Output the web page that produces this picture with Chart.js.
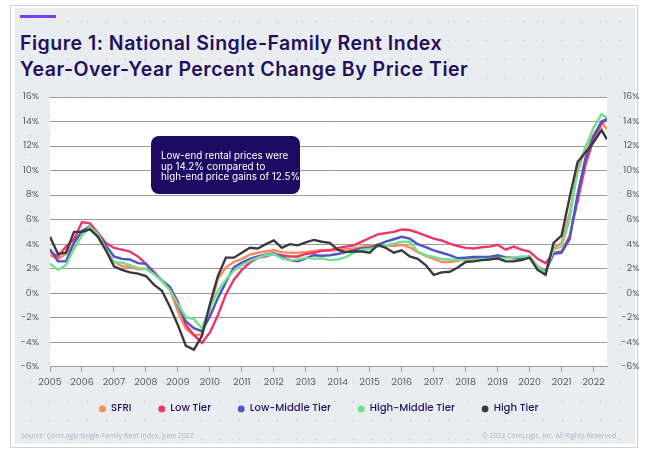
<!DOCTYPE html>
<html>
<head>
<meta charset="utf-8">
<script src="https://cdn.jsdelivr.net/npm/chart.js@4.4.0/dist/chart.umd.min.js"></script>
<style>
  body { margin: 0; background: #fff; width: 650px; height: 458px; overflow: hidden; position: relative; font-family: 'Poppins', 'Inter', sans-serif; }
  .frame { position: absolute; left: 10px; top: 5px; width: 628px; height: 443px; border: 1px solid #d2d2d2; box-sizing: border-box; }
  .panel { position: absolute; left: 15px; top: 8px; width: 620px; height: 436px; background-color: #e9edf0;
           background-image: radial-gradient(circle, #d4d9dd 0.9px, transparent 1.2px); background-size: 19px 19px; background-position: 6px 4px; }
  .accent { position: absolute; left: 20px; top: 15px; width: 36px; height: 3px; background: #7a3ff0; }
  .title { position: absolute; left: 20px; top: 30px; color: #22105c; font: 600 19.5px 'Inter', sans-serif; line-height: 26px; letter-spacing: 0.5px; white-space: nowrap; }
  canvas { position: absolute; left: 0; top: 0; }
  .note { position: absolute; left: 151px; top: 136px; width: 149px; height: 58px; box-sizing: border-box; padding: 15px 0 0 10px;
          background: #1d0b63; border-radius: 8px; color: #fff; font: 9.8px 'Inter', sans-serif; line-height: 10.5px; white-space: nowrap; }
  .src { position: absolute; top: 431px; color: #aeb3b8; font: 6.9px 'Open Sans', sans-serif; white-space: nowrap; }
</style>
</head>
<body>
<div class="frame"></div>
<div class="panel"></div>
<div class="accent"></div>
<div class="title">Figure 1: National Single-Family Rent Index<br>Year-Over-Year Percent Change By Price Tier</div>
<canvas id="rentChart" width="650" height="458"></canvas>
<div class="note">Low-end rental prices were<br>up 14.2% compared to<br>high-end price gains of 12.5%</div>
<div class="src" style="left:21px">Source: CoreLogic Single-Family Rent Index, June 2022</div>
<div class="src" style="right:32px">© 2022 CoreLogic, Inc. All Rights Reserved.</div>
<script>
// quarterly readings, last point is June 2022
const months = [
	'2005-01', '2005-04', '2005-07', '2005-10',
	'2006-01', '2006-04', '2006-07', '2006-10',
	'2007-01', '2007-04', '2007-07', '2007-10',
	'2008-01', '2008-04', '2008-07', '2008-10',
	'2009-01', '2009-04', '2009-07', '2009-10',
	'2010-01', '2010-04', '2010-07', '2010-10',
	'2011-01', '2011-04', '2011-07', '2011-10',
	'2012-01', '2012-04', '2012-07', '2012-10',
	'2013-01', '2013-04', '2013-07', '2013-10',
	'2014-01', '2014-04', '2014-07', '2014-10',
	'2015-01', '2015-04', '2015-07', '2015-10',
	'2016-01', '2016-04', '2016-07', '2016-10',
	'2017-01', '2017-04', '2017-07', '2017-10',
	'2018-01', '2018-04', '2018-07', '2018-10',
	'2019-01', '2019-04', '2019-07', '2019-10',
	'2020-01', '2020-04', '2020-07', '2020-10',
	'2021-01', '2021-04', '2021-07', '2021-10',
	'2022-01', '2022-04', '2022-06'
];

const sfri = [
	3.1, 2.8, 3.2, 4.1,   5.0, 5.5, 4.6, 3.5,   2.6, 2.2, 2.15, 1.95,   2.0, 1.6, 1.0, 0.3,
	-1.5, -2.9, -3.45, -3.35,   -1.3, 1.2, 2.1, 2.55,   2.8, 3.15, 3.3, 3.4,   3.5, 3.35, 3.3, 3.3,
	3.35, 3.45, 3.5, 3.5,   3.5, 3.6, 3.65, 3.8,   3.85, 3.95, 3.9, 3.85,   3.95, 3.75, 3.35, 3.05,
	2.8, 2.55, 2.55, 2.65,   2.8, 2.8, 2.85, 2.95,   3.0, 2.95, 2.9, 2.85,   2.95, 2.2, 1.8, 3.7,
	4.1, 6.5, 9.9, 11.9,   12.9, 13.9, 13.4
];
const lowTier = [
	3.4, 3.0, 3.8, 4.4,   5.8, 5.7, 4.9, 4.1,   3.7, 3.55, 3.4, 3.0,   2.4, 1.75, 1.0, 0.5,
	-0.7, -2.6, -3.4, -4.05,   -3.2, -1.8, -0.1, 1.1,   1.9, 2.5, 2.9, 3.0,   3.2, 3.1, 3.0, 3.0,
	3.2, 3.3, 3.45, 3.5,   3.7, 3.8, 3.9, 4.2,   4.5, 4.8, 4.9, 5.0,   5.2, 5.15, 4.95, 4.7,
	4.45, 4.3, 4.05, 3.85,   3.7, 3.65, 3.75, 3.8,   3.95, 3.55, 3.8, 3.55,   3.4, 2.8, 2.45, 3.3,
	3.4, 4.65, 7.5, 10.5,   12.55, 13.8, 14.2
];
const lowMiddleTier = [
	3.6, 2.6, 2.6, 4.1,   5.1, 5.4, 4.7, 3.9,   3.0, 2.8, 2.75, 2.45,   2.4, 1.6, 1.05, 0.5,
	-1.0, -2.3, -2.85, -3.1,   -1.9, -0.4, 0.9, 2.1,   2.5, 2.8, 3.0, 3.15,   3.25, 2.95, 2.7, 2.6,
	2.85, 3.1, 3.05, 3.1,   3.2, 3.35, 3.5, 3.65,   3.7, 3.95, 4.2, 4.4,   4.6, 4.45, 4.0, 3.75,
	3.5, 3.3, 3.1, 2.85,   2.9, 2.95, 2.95, 2.95,   3.1, 2.9, 2.85, 2.8,   3.0, 2.05, 1.8, 3.2,
	3.3, 4.4, 8.05, 11.05,   12.8, 14.0, 14.2
];
const highMiddleTier = [
	2.4, 1.9, 2.3, 3.6,   4.7, 5.4, 4.8, 3.6,   2.5, 2.5, 2.3, 2.05,   2.0, 1.55, 1.0, 0.25,
	-0.9, -1.95, -2.1, -2.85,   -1.2, 0.2, 1.1, 1.85,   2.3, 2.65, 2.9, 3.1,   3.2, 2.85, 2.7, 2.75,
	2.9, 2.8, 2.85, 2.7,   2.75, 2.95, 3.3, 3.55,   3.6, 3.8, 3.9, 4.05,   4.2, 4.2, 3.4, 3.1,
	2.95, 2.8, 2.75, 2.7,   2.7, 2.7, 2.8, 2.8,   2.85, 2.85, 2.9, 3.0,   3.0, 2.1, 1.7, 3.55,
	3.8, 6.0, 10.25, 11.9,   13.5, 14.6, 14.3
];
const highTier = [
	4.6, 3.2, 3.3, 5.0,   5.0, 5.2, 4.6, 3.5,   2.2, 1.9, 1.7, 1.6,   1.4, 0.7, 0.2, -1.1,
	-2.6, -4.3, -4.6, -3.5,   -0.9, 1.4, 2.9, 2.9,   3.3, 3.7, 3.65, 4.0,   4.3, 3.7, 4.0, 3.9,
	4.15, 4.35, 4.2, 4.1,   3.55, 3.35, 3.4, 3.4,   3.3, 3.95, 3.7, 3.3,   3.5, 3.0, 2.8, 2.3,
	1.5, 1.7, 1.75, 2.1,   2.55, 2.6, 2.7, 2.75,   2.85, 2.6, 2.6, 2.7,   2.9, 1.9, 1.5, 4.1,
	4.7, 7.8, 10.7, 11.5,   12.3, 13.3, 12.55
];

const yearTicks = [2005, 2006, 2007, 2008, 2009, 2010, 2011, 2012, 2013, 2014, 2015, 2016, 2017, 2018, 2019, 2020, 2021, 2022];
const percentTicks = [-6, -4, -2, 0, 2, 4, 6, 8, 10, 12, 14, 16];

const seriesNames = ['SFRI', 'Low Tier', 'Low-Middle Tier', 'High-Middle Tier', 'High Tier'];
const seriesColors = ['#fa8a5a', '#f0336d', '#4a55c6', '#70e090', '#3a3a3c'];
const seriesValues = [sfri, lowTier, lowMiddleTier, highMiddleTier, highTier];

const toYear = (m) => +m.slice(0, 4) + (+m.slice(5) - 1) / 12;

const plotBg = {
	id: 'plotBg',
	beforeDraw(chart) {
		const { ctx, chartArea: a } = chart;
		ctx.save();
		ctx.fillStyle = '#ffffff';
		ctx.fillRect(a.left, a.top, a.right - a.left, a.bottom - a.top);
		ctx.restore();
	}
};

const tickFont = { family: "'Poppins', 'Inter', sans-serif", size: 9.5 };
const tickColor = '#5a5a5a';

new Chart(document.getElementById('rentChart'), {
	type    : 'line',
	data    : {
		datasets : seriesNames.map((name, i) => ({
			label           : name,
			data            : seriesValues[i].map((v, j) => ({ x: toYear(months[j]), y: v })),
			borderColor     : seriesColors[i],
			backgroundColor : seriesColors[i],
			borderWidth     : 2.4,
			pointRadius     : 0,
			tension         : 0,
			order           : seriesNames.length - 1 - i
		}))
	},
	options : {
		responsive : false,
		animation  : false,
		layout     : { padding: { top: 97, left: 8, right: 10.5, bottom: 34 } },
		plugins    : {
			legend  : {
				position : 'bottom',
				labels   : {
					usePointStyle  : true,
					pointStyle     : 'circle',
					boxWidth       : 7,
					boxHeight      : 4.8,
					padding        : 16.5,
					color          : '#24125e',
					font           : { family: "'Poppins', 'Inter', sans-serif", size: 10.2, weight: '500' },
					sort           : (a, b) => a.datasetIndex - b.datasetIndex,
					// em space after each label widens the gap between items without pushing the row down
					generateLabels : (chart) => Chart.defaults.plugins.legend.labels.generateLabels(chart)
						.map((l) => ({ ...l, text: l.text + '\u2003', lineWidth: 0 }))
				}
			},
			tooltip : { enabled: false }
		},
		scales     : {
			x  : {
				type   : 'linear',
				min    : 2005,
				max    : 2022.42,
				afterBuildTicks : (scale) => { scale.ticks = yearTicks.map((v) => ({ value: v })); },
				afterFit : (scale) => { scale.height = 20.5; },
				ticks  : { callback: (v) => String(v), color: tickColor, font: tickFont, padding: 5, maxRotation: 0, autoSkip: false },
				grid   : { drawOnChartArea: false, drawTicks: true, tickLength: 5, color: '#9a9a9a' },
				border : { display: true, color: '#9a9a9a' }
			},
			y  : {
				position : 'left',
				min      : -6,
				max      : 16,
				afterBuildTicks : (scale) => { scale.ticks = percentTicks.map((v) => ({ value: v })); },
				afterFit : (scale) => { scale.width = 42; },
				ticks    : { callback: (v) => v + '%', color: tickColor, font: tickFont, padding: 11 },
				grid     : { color: '#9a9a9a', drawTicks: false },
				border   : { display: false }
			},
			y2 : {
				position : 'right',
				min      : -6,
				max      : 16,
				afterBuildTicks : (scale) => { scale.ticks = percentTicks.map((v) => ({ value: v })); },
				afterFit : (scale) => { scale.width = 32.5; },
				ticks    : { callback: (v) => v + '%', color: tickColor, font: tickFont, padding: 4, crossAlign: 'far' },
				grid     : { display: false, drawTicks: false },
				border   : { display: false }
			}
		}
	},
	plugins : [plotBg]
});
</script>
</body>
</html>
